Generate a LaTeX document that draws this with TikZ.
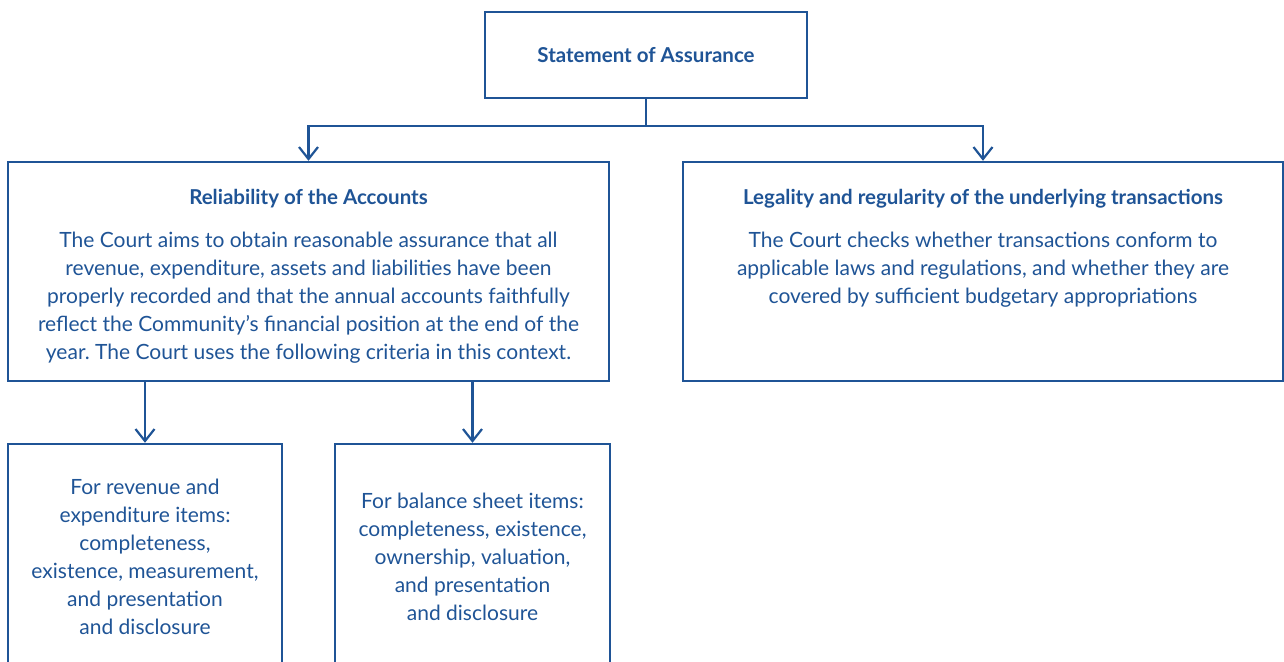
\documentclass[tikz,border=0pt]{standalone}
\usepackage{fontspec}
\setmainfont{Lato}
\frenchspacing
\usetikzlibrary{arrows.meta}
\definecolor{ecablue}{RGB}{31,84,150}
\tikzset{
  box/.style={draw=ecablue, line width=2.4pt, rectangle, inner sep=0pt},
  title/.style={text=ecablue, font=\fontsize{20.5}{24}\selectfont\bfseries, inner sep=0pt, anchor=base},
  body/.style={text=ecablue, font=\fontsize{21}{28}\selectfont, align=center, inner sep=0pt, anchor=north},
  link/.style={draw=ecablue, line width=2.2pt},
  arr/.style={link, -{Straight Barb[length=12pt,width=19pt,line width=2.2pt]}}
}
\begin{document}
\begin{tikzpicture}[x=1pt,y=-1pt]
\useasboundingbox (0,0) rectangle (1284,661);
\begin{scope}
\clip (0,0) rectangle (1284,661);
% boxes
\node[box, minimum width=322pt, minimum height=86pt] (soa) at (646,55) {};
\node[box, minimum width=601pt, minimum height=219pt] (rel) at (308.5,271.5) {};
\node[box, minimum width=600pt, minimum height=219pt] (leg) at (983,271.5) {};
\node[box, minimum width=274pt, minimum height=280pt] (rev) at (145,584) {};
\node[box, minimum width=275pt, minimum height=280pt] (bal) at (472.5,584) {};
% texts
\node[title] (soat) at (646,63) {Statement of Assurance};
\node[title] (relt) at (308.5,204) {Reliability of the Accounts};
\node[title] (legt) at (983,204) {Legality and regularity of the underlying transactions};
\node[body] (relb) at (308.5,232) {The Court aims to obtain reasonable assurance that all\\
revenue, expenditure, assets and liabilities have been\\
properly recorded and that the annual accounts faithfully\\
reflect the Community’s financial position at the end of the\\
year. The Court uses the following criteria in this context.};
\node[body] (legb) at (983,232) {The Court checks whether transactions conform to\\
applicable laws and regulations, and whether they are\\
covered by sufficient budgetary appropriations};
\node[body] (revb) at (145,479) {For revenue and\\
expenditure items:\\
completeness,\\
existence, measurement,\\
and presentation\\
and disclosure};
\node[body] (balb) at (472.5,493) {For balance sheet items:\\
completeness, existence,\\
ownership, valuation,\\
and presentation\\
and disclosure};
% connectors
\draw[link] (soa.south) -- ++(0,27) coordinate (j);
\draw[arr] (j) -| (rel.north);
\draw[arr] (j) -| (leg.north);
\draw[arr] (rel.south -| rev.north) -- (rev.north);
\draw[arr] (rel.south -| bal.north) -- (bal.north);
\end{scope}
\end{tikzpicture}
\end{document}
